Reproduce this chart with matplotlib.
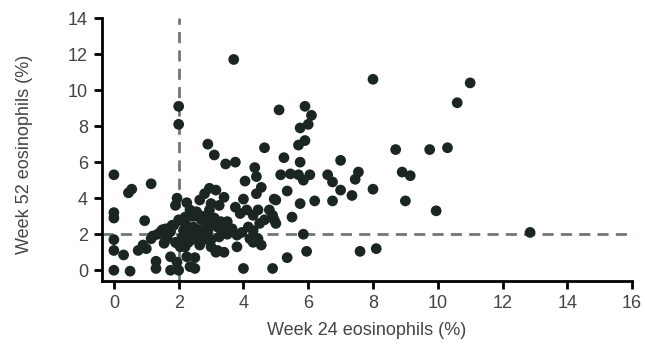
import numpy as np
import matplotlib
matplotlib.use("Agg")
import matplotlib.pyplot as plt

plt.rcParams["font.family"] = ["Liberation Sans", "DejaVu Sans"]

# Week 24 vs week 52 eosinophils (%)
week24 = [
    3.7, 2.0, 2.0, 8.0, 11.0, 10.6, 5.1, 5.9, 6.1, 6.0, 5.75, 5.9, 5.7,
    8.7, 9.75, 10.3, 2.9, 4.65, 3.1, 3.45, 3.75, 4.35, 4.4, 4.05,
    5.25, 5.75, 7.0, 5.15, 5.45, 5.7, 5.85, 6.05, 6.6, 6.75, 7.0, 7.35,
    7.45, 7.55, 8.0, 8.9, 9.15, 9.0, 9.95,
    5.35, 5.0, 5.75, 6.2, 6.75, 4.9, 5.5, 5.0, 5.85, 5.95, 5.35, 7.6, 8.1, 4.9,
    12.85,
    0.0, 0.55, 0.45, 1.15, 0.0, 0.0, 0.95, 0.0, 0.0, 0.3, 0.75, 0.9,
    0.0, 0.5, 1.3, 1.75, 2.0, 2.5, 4.0,
    2.95, 3.15, 4.55, 4.4, 3.4, 4.0, 4.95, 1.95, 1.9, 2.25, 2.65, 2.8,
    3.75, 3.25, 2.95, 2.35, 3.9, 4.3, 4.45, 4.1, 4.8, 4.65, 4.95, 4.15,
    4.5, 4.3, 3.65, 3.2, 2.85, 2.7, 2.0, 2.45, 2.15, 1.75, 1.45, 1.5, 1.15,
    1.2, 1.65, 2.1, 2.55, 2.75, 3.25, 3.8, 4.3, 4.2, 4.45, 4.55,
    3.15, 3.4, 3.8, 3.0, 3.2,
    1.0, 1.55, 2.05, 2.65, 1.3, 1.75, 1.95, 2.25, 2.5, 2.35,
    1.35, 1.6, 1.85, 2.3, 2.6, 2.9, 3.05, 3.5, 2.4, 2.2, 1.9, 3.35,
    2.6, 3.0, 3.55, 2.3, 2.85, 3.45, 3.95, 2.55,
    2.5, 2.8, 3.1, 2.2, 1.8, 2.4, 2.7, 3.0, 3.5, 3.3, 1.95, 2.2, 1.6,
]
week52 = [
    11.7, 9.1, 8.1, 10.6, 10.4, 9.3, 8.9, 9.1, 8.6, 8.1, 7.9, 7.2, 6.95,
    6.7, 6.7, 6.8, 7.0, 6.8, 6.4, 5.9, 6.0, 5.7, 5.2, 4.95,
    6.25, 6.0, 6.1, 5.3, 5.35, 5.3, 5.0, 5.3, 5.3, 4.9, 4.45, 4.15,
    5.05, 5.45, 4.5, 5.45, 5.25, 3.85, 3.3,
    4.4, 3.9, 3.7, 3.85, 3.85, 3.05, 2.95, 2.6, 2.0, 1.05, 0.7, 1.05, 1.2, 0.1,
    2.1,
    5.3, 4.5, 4.3, 4.8, 3.2, 2.9, 2.75, 1.7, 1.1, 0.85, 1.1, 1.4,
    0.0, -0.05, 0.1, 0.0, 0.0, 0.1, 0.1,
    4.55, 4.45, 4.6, 4.25, 4.05, 3.95, 3.95, 4.0, 3.6, 3.75, 3.9, 4.25,
    3.5, 3.6, 3.35, 3.35, 3.15, 3.05, 3.35, 3.35, 3.35, 2.8, 2.8, 2.4,
    2.6, 2.2, 2.3, 2.4, 2.6, 2.8, 2.8, 2.4, 2.2, 2.15, 2.15, 2.25, 1.75,
    1.9, 1.9, 1.8, 1.9, 2.1, 1.85, 1.95, 1.55, 1.75, 1.75, 1.4,
    1.0, 1.0, 1.3, 1.3, 1.1,
    1.2, 1.5, 1.3, 1.4, 0.5, 0.75, 0.45, 0.75, 0.7, 0.2,
    2.0, 2.3, 2.5, 2.05, 2.25, 2.15, 2.55, 2.7, 3.0, 2.95, 1.55, 2.05,
    3.1, 3.7, 2.1, 1.55, 1.75, 2.5, 2.1, 3.25,
    3.0, 3.0, 2.9, 2.6, 2.5, 1.7, 1.6, 1.7, 2.0, 2.7, 1.5, 1.3, 1.7,
]

cut_x = 2
cut_y = 2

fig = plt.figure(figsize=(6.45, 3.47), dpi=100)
ax = fig.add_axes([0.158, 0.19, 0.822, 0.758])

ax.axvline(cut_x, color="#6f7877", lw=2, ls=(0, (4, 2.6)), zorder=1)
ax.axhline(cut_y, color="#6f7877", lw=2, ls=(0, (4, 2.6)), zorder=1)
ax.scatter(week24, week52, s=60, color="#1b2624", edgecolors="none", zorder=3)

ax.set_xlim(-0.37, 16)
ax.set_ylim(-0.6, 14)
ax.set_xticks(np.arange(0, 17, 2))
ax.set_yticks(np.arange(0, 15, 2))

for side in ["top", "right"]:
    ax.spines[side].set_visible(False)
for side in ["left", "bottom"]:
    ax.spines[side].set_linewidth(2)
ax.tick_params(length=6, width=2, color="black", labelsize=13,
               labelcolor="#444444", pad=4)

ax.set_xlabel("Week 24 eosinophils (%)", fontsize=13, color="#444444")
ax.set_ylabel("Week 52 eosinophils (%)", fontsize=13, color="#444444")
ax.xaxis.set_label_coords(0.5, -0.155)
ax.yaxis.set_label_coords(-0.13, 0.48)

fig.savefig("out.png", dpi=100)
